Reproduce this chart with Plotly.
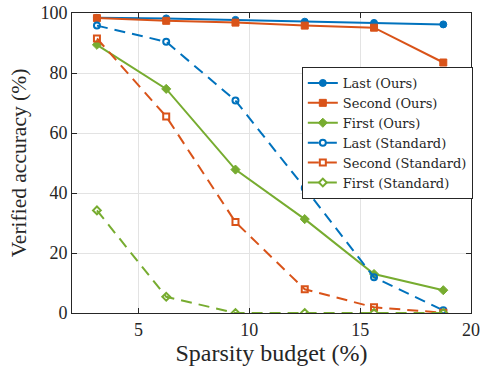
import plotly.graph_objects as go

sparsity = [3.125, 6.25, 9.375, 12.5, 15.625, 18.75]
last_ours = [98.4, 98.2, 97.7, 97.1, 96.7, 96.2]
second_ours = [98.3, 97.4, 96.8, 95.8, 95.1, 83.5]
first_ours = [89.4, 74.7, 47.8, 31.3, 13.0, 7.6]
last_std = [95.8, 90.4, 70.8, 41.7, 11.9, 0.9]
second_std = [91.5, 65.5, 30.3, 7.9, 1.9, 0.1]
first_std = [34.2, 5.4, 0.0, 0.0, 0.0, 0.0]

names = ["Last (Ours)", "Second (Ours)", "First (Ours)",
         "Last (Standard)", "Second (Standard)", "First (Standard)"]
series = [last_ours, second_ours, first_ours, last_std, second_std, first_std]
colors = ["#0072BD", "#D95319", "#77AC30"] * 2
symbols = ["circle", "square", "diamond", "circle-open", "square-open", "diamond-open"]
dashes = ["solid"] * 3 + ["dash"] * 3

fig = go.Figure()
for n, y, c, s, d in zip(names, series, colors, symbols, dashes):
    fig.add_trace(go.Scatter(
        x=sparsity, y=y, name=n, mode="lines+markers",
        line=dict(color=c, width=2, dash="11px,7px" if d == "dash" else "solid"),
        marker=dict(symbol=s, size=7 if "open" not in s else 6, color=c,
                    line=dict(color=c, width=2 if "open" in s else 1)),
    ))

font = "Liberation Serif"
axis_common = dict(
    showgrid=True, gridcolor="#e3e3e3", gridwidth=1,
    showline=True, linecolor="#262626", linewidth=1, mirror="ticks",
    ticks="inside", ticklen=5, tickcolor="#262626",
    tickfont=dict(family=font, size=18, color="#262626"),
    zeroline=False, automargin=False,
)
fig.update_layout(
    width=483, height=366,
    margin=dict(l=72, r=10, t=13, b=53),
    plot_bgcolor="white", paper_bgcolor="white",
    xaxis=dict(range=[2, 20], tickvals=[5, 10, 15, 20], **axis_common,
               title=dict(text="Sparsity budget (%)", font=dict(family=font, size=24, color="#262626"), standoff=2)),
    yaxis=dict(range=[0, 100], tickvals=[0, 20, 40, 60, 80, 100], **axis_common,
               title=dict(text="Verified accuracy (%)", font=dict(family=font, size=21.5, color="#262626"), standoff=7)),
    legend=dict(x=0.576, y=0.82, xanchor="left", yanchor="top",
                bgcolor="white", bordercolor="#262626", borderwidth=1,
                font=dict(family="DejaVu Serif", size=13, color="#262626"),
                tracegroupgap=0, itemwidth=30),
    showlegend=True,
)
fig.write_html("out.html", config={"displayModeBar": False},
               post_script="document.body.style.margin='0';document.body.style.overflow='hidden';")
